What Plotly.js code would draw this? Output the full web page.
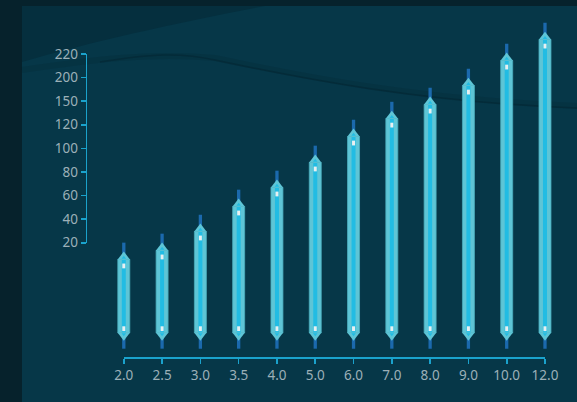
<!DOCTYPE html>
<html><head><meta charset="utf-8">
<script src="https://cdn.plot.ly/plotly-3.0.1.min.js"></script>
<style>html,body{margin:0;padding:0;background:#06222c;overflow:hidden}#chart{width:577px;height:402px}</style>
</head><body><div id="chart"></div>
<script>
// ---- data ----
const categories = ['2.0','2.5','3.0','3.5','4.0','5.0','6.0','7.0','8.0','9.0','10.0','12.0'];
const topValues = [0.3, 7.9, 24.0, 45.2, 61.3, 82.5, 104.5, 119.7, 131.6, 147.7, 168.9, 186.7];
const bottomValues = [-52.9, -52.9, -52.9, -52.9, -52.9, -52.9, -52.9, -52.9, -52.9, -52.9, -52.9, -52.9];
const yTickValues = [20, 40, 60, 80, 100, 120, 140, 160, 180];
const yTickLabels = ['20', '40', '60', '80', '100', '120', '150', '200', '220'];

// ---- layout geometry (pixels) ----
const W = 577, H = 402;
const X0PX = 123.8, XSTEP = 38.29;
const YREF_PX = 242.7, YREF_VAL = 20, PXU = 23.59 / 20;
const xRange = [-X0PX / XSTEP, (W - X0PX) / XSTEP];
const yRange = [YREF_VAL - (H - YREF_PX) / PXU, YREF_VAL + YREF_PX / PXU];
const u = px => px / PXU;     // pixel length -> y units
const cw = px => px / XSTEP;  // pixel width  -> category units

const FONT = 'Noto Sans, Open Sans, sans-serif';
const BODY = '#5ec5d6', EDGE = '#4aacbb', STRIPE = '#22bce3', WHISK = '#1b69ad', WHITE = '#e8f0f1';

const whiskBase = bottomValues.map(b => b - u(20));
const whiskLen = topValues.map((t, i) => t + u(23.3) - whiskBase[i]);
const bodyBase = bottomValues.map(b => b - u(4.2));
const bodyLen = topValues.map((t, i) => t + u(6.6) - bodyBase[i]);

const traces = [
  {type:'bar', x:categories, base:whiskBase, y:whiskLen, width:cw(3.3),
   marker:{color:WHISK, line:{width:0}}, hoverinfo:'skip', showlegend:false},
  {type:'bar', x:categories, base:bodyBase, y:bodyLen, width:cw(12),
   marker:{color:BODY, line:{color:EDGE, width:0.8}}, hoverinfo:'skip', showlegend:false},
  {type:'bar', x:categories, base:bodyBase, y:bodyLen, width:cw(4),
   marker:{color:STRIPE, line:{width:0}}, hoverinfo:'skip', showlegend:false},
  {type:'bar', x:categories.concat(categories),
   base:topValues.map(t => t - u(2.4)).concat(bottomValues.map(b => b - u(2.4))),
   y:topValues.map(() => u(4.8)).concat(bottomValues.map(() => u(4.8))), width:cw(3),
   marker:{color:WHITE, line:{width:0}}, hoverinfo:'skip', showlegend:false},
  {type:'scatter', mode:'markers', x:categories, y:topValues.map(t => t + u(9)),
   marker:{symbol:'triangle-up', size:10.9, color:BODY, line:{width:0}}, hoverinfo:'skip', showlegend:false, cliponaxis:false},
  {type:'scatter', mode:'markers', x:categories, y:bottomValues.map(b => b - u(6.5)),
   marker:{symbol:'triangle-down', size:10.9, color:BODY, line:{width:0}}, hoverinfo:'skip', showlegend:false, cliponaxis:false},
  {type:'scatter', mode:'markers', x:categories, y:topValues.map(t => t + u(8.2)),
   marker:{symbol:'triangle-up', size:4, color:STRIPE, line:{width:0}}, hoverinfo:'skip', showlegend:false},
  {type:'scatter', mode:'markers', x:categories, y:bottomValues.map(b => b - u(5.6)),
   marker:{symbol:'triangle-down', size:4, color:STRIPE, line:{width:0}}, hoverinfo:'skip', showlegend:false},
  // invisible trace that carries the visible axes
  {type:'scatter', mode:'markers', x:[0], y:[20], xaxis:'x2', yaxis:'y2',
   marker:{opacity:0}, hoverinfo:'skip', showlegend:false}
];

const P = (x, y) => (x / W).toFixed(4) + ',' + (1 - y / H).toFixed(4);
const AX = '#1aa2cc';
const layout = {
  width: W, height: H, margin:{l:0, r:0, t:0, b:0, pad:0},
  paper_bgcolor:'#06222c', plot_bgcolor:'rgba(0,0,0,0)',
  barmode:'overlay', hovermode:false, showlegend:false,
  xaxis:{type:'category', range:xRange, visible:false, fixedrange:true},
  yaxis:{range:yRange, visible:false, fixedrange:true},
  xaxis2:{domain:[X0PX / W, (X0PX + 11 * XSTEP) / W], range:[0, 11], anchor:'free', position:1 - 357 / H,
    tickmode:'array', tickvals:categories.map((c, i) => i), ticktext:categories,
    showline:true, linecolor:AX, linewidth:1.6, ticks:'outside', ticklen:5, tickwidth:1.6, tickcolor:AX,
    showgrid:false, zeroline:false, tickfont:{family:FONT, size:13.5, color:'#9cb0b8'}, fixedrange:true},
  yaxis2:{domain:[1 - YREF_PX / H, 1 - 54 / H], range:[20, 180], anchor:'free', position:85.7 / W, side:'left',
    tickmode:'array', tickvals:yTickValues, ticktext:yTickLabels,
    showline:true, linecolor:AX, linewidth:1.6, ticks:'outside', ticklen:5, tickwidth:1.6, tickcolor:AX,
    showgrid:false, zeroline:false, tickfont:{family:FONT, size:13.5, color:'#9cb0b8'}, fixedrange:true},
  shapes:[
    {type:'rect', xref:'paper', yref:'paper', x0:22 / W, x1:1, y0:0, y1:1 - 6 / H,
     fillcolor:'#063748', line:{width:0}, layer:'below'},
    {type:'path', xref:'paper', yref:'paper', layer:'below', line:{width:0}, fillcolor:'#052f3e',
     path:'M' + P(22, 6) + ' L' + P(265, 6) + ' C' + P(180, 22) + ' ' + P(90, 42) + ' ' + P(22, 62) + ' Z'},
    {type:'path', xref:'paper', yref:'paper', layer:'below', fillcolor:'rgba(0,0,0,0)',
     line:{color:'rgba(2,28,38,0.16)', width:6},
     path:'M' + P(22, 70) + ' C' + P(90, 60) + ' ' + P(150, 52) + ' ' + P(215, 58) + ' C' + P(300, 76) + ' ' + P(420, 100) + ' ' + P(577, 106)},
    {type:'path', xref:'paper', yref:'paper', layer:'below', fillcolor:'rgba(0,0,0,0)',
     line:{color:'rgba(2,26,36,0.3)', width:1.5},
     path:'M' + P(100, 62) + ' C' + P(150, 54) + ' ' + P(180, 52) + ' ' + P(215, 60) + ' C' + P(300, 78) + ' ' + P(420, 102) + ' ' + P(577, 108)}
  ]
};
Plotly.newPlot('chart', traces, layout, {staticPlot:true, displayModeBar:false});
</script>
</body></html>
